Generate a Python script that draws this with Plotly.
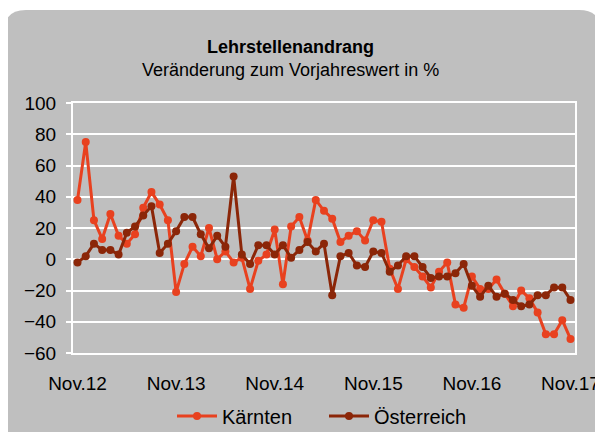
import plotly.graph_objects as go

# monthly values, Nov.12 .. Nov.17
months = [
    "Nov.12", "Dez.12", "Jän.13", "Feb.13", "Mär.13", "Apr.13", "Mai.13", "Jun.13", "Jul.13", "Aug.13", "Sep.13", "Okt.13",
    "Nov.13", "Dez.13", "Jän.14", "Feb.14", "Mär.14", "Apr.14", "Mai.14", "Jun.14", "Jul.14", "Aug.14", "Sep.14", "Okt.14",
    "Nov.14", "Dez.14", "Jän.15", "Feb.15", "Mär.15", "Apr.15", "Mai.15", "Jun.15", "Jul.15", "Aug.15", "Sep.15", "Okt.15",
    "Nov.15", "Dez.15", "Jän.16", "Feb.16", "Mär.16", "Apr.16", "Mai.16", "Jun.16", "Jul.16", "Aug.16", "Sep.16", "Okt.16",
    "Nov.16", "Dez.16", "Jän.17", "Feb.17", "Mär.17", "Apr.17", "Mai.17", "Jun.17", "Jul.17", "Aug.17", "Sep.17", "Okt.17",
    "Nov.17",
]

kaernten = [
    38, 75, 25, 13, 29, 15, 10, 16, 33, 43, 35, 25,
    -21, -3, 8, 2, 20, 0, 5, -2, 1, -19, -1, 3,
    19, -16, 21, 27, 12, 38, 31, 26, 11, 15, 18, 12,
    25, 24, -6, -19, 0, -5, -11, -18, -8, -2, -29, -31,
    -11, -19, -19, -13, -22, -30, -20, -25, -34, -48, -48, -39,
    -51,
]

oesterreich = [
    -2, 2, 10, 6, 6, 3, 17, 21, 28, 34, 4, 10,
    18, 27, 27, 16, 7, 15, 8, 53, 3, -3, 9, 9,
    3, 9, 1, 6, 11, 5, 10, -23, 2, 4, -4, -5,
    5, 4, -8, -4, 2, 2, -5, -12, -11, -11, -9, -3,
    -17, -24, -17, -24, -22, -26, -30, -29, -23, -23, -18, -18,
    -26,
]

tick_labels = ["Nov.12", "Nov.13", "Nov.14", "Nov.15", "Nov.16", "Nov.17"]

FONT = "Liberation Sans, Arial, sans-serif"
GREY = "#BFBFBF"

fig = go.Figure()
fig.add_trace(go.Scatter(x=months, y=kaernten, name="Kärnten", mode="lines+markers",
                         line=dict(color="#E8411F", width=3), marker=dict(size=8)))
fig.add_trace(go.Scatter(x=months, y=oesterreich, name="Österreich", mode="lines+markers",
                         line=dict(color="#8B2608", width=3), marker=dict(size=8)))

# page has an 8px body margin, so the figure is a bit smaller and everything is shifted by 8
W, H = 595, 424
L, R, T, B = 65, 567, 95, 345
pw, ph = R - L, B - T
def px(x): return (x - L) / pw
def py(y): return (B - y) / ph

# grey rounded chart area behind everything
x0, x1, yt, yb = px(-4), px(593), py(2), py(430)
rx, ry = 22 / pw, 22 / ph
path = (f"M {x0},{yb} L {x0},{yt - ry} Q {x0},{yt} {x0 + rx},{yt} "
        f"L {x1 - rx},{yt} Q {x1},{yt} {x1},{yt - ry} L {x1},{yb} Z")
fig.add_shape(type="path", path=path, xref="paper", yref="paper",
              fillcolor=GREY, line=dict(width=0), layer="below")

fig.add_annotation(text="<b>Lehrstellenandrang</b>", x=px(282), y=py(39), xref="paper", yref="paper",
                   xanchor="center", yanchor="middle", showarrow=False,
                   font=dict(size=18, color="black", family=FONT))
fig.add_annotation(text="Veränderung zum Vorjahreswert in %", x=px(282), y=py(62), xref="paper", yref="paper",
                   xanchor="center", yanchor="middle", showarrow=False,
                   font=dict(size=18, color="black", family=FONT))

fig.update_xaxes(type="category", range=[-0.55, 60.55], tickvals=tick_labels, ticktext=tick_labels,
                 showgrid=False, showline=True, linecolor="white", linewidth=2, mirror=True,
                 ticks="", ticklabelstandoff=12, automargin=False,
                 tickfont=dict(size=19, color="black", family=FONT))
fig.update_yaxes(range=[-60, 100], dtick=20, showgrid=True, gridcolor="white", gridwidth=2,
                 showline=True, linecolor="white", linewidth=2, mirror=True, zeroline=False,
                 ticks="outside", ticklen=5, tickcolor="white", tickwidth=2, ticklabelstandoff=6,
                 automargin=False, tickfont=dict(size=19, color="black", family=FONT))

fig.update_layout(
    width=W, height=H,
    margin=dict(l=L, r=W - R, t=T, b=H - B, autoexpand=False),
    paper_bgcolor="white", plot_bgcolor="rgba(0,0,0,0)",
    font=dict(family=FONT, color="black"),
    showlegend=True,
    legend=dict(orientation="h", xref="container", yref="container",
                x=164 / W, xanchor="left", y=1 - 408 / H, yanchor="middle",
                bgcolor="rgba(0,0,0,0)", font=dict(size=20, color="black", family=FONT),
                entrywidth=97, itemwidth=40),
)

fig.write_html("out.html")
